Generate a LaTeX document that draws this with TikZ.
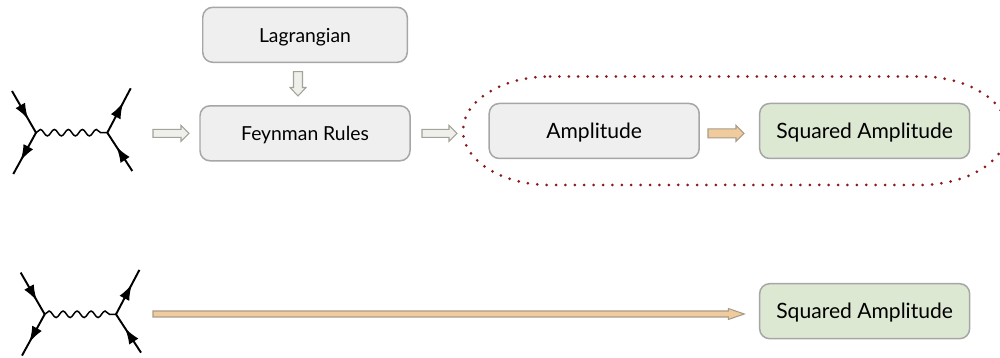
\documentclass[tikz,border=0pt]{standalone}
\usepackage{fontspec}
\setmainfont{Lato}
\usetikzlibrary{arrows.meta}
\usetikzlibrary{calc}
\usetikzlibrary{decorations.pathmorphing}
\usetikzlibrary{decorations.markings}
\definecolor{boxgrey}{HTML}{EFEFEF}
\definecolor{boxgreen}{HTML}{DDE8D3}
\definecolor{boxline}{HTML}{A6A6A6}
\definecolor{tanfill}{HTML}{EFCB9E}
\definecolor{tanline}{HTML}{A89C88}
\definecolor{paleline}{HTML}{A3A398}
\definecolor{palefill}{HTML}{EFEFEC}
\definecolor{loopred}{HTML}{8B1A1A}
\tikzset{
  stepbox/.style={draw=boxline, fill=boxgrey, line width=0.85pt, rounded corners=0.2cm,
    minimum width=4.2cm, minimum height=1.1cm, inner sep=0pt, text height=10pt, text depth=1.7pt},
  blockarrow/.style n args={3}{line width=0.6pt, to path={
    -- ($(\tikztostart)!#1!90:(\tikztotarget)$)
    -- ($(\tikztotarget)!#3!(\tikztostart)!#1!-90:(\tikztostart)$)
    -- ($(\tikztotarget)!#3!(\tikztostart)!#2!-90:(\tikztostart)$)
    -- (\tikztotarget)
    -- ($(\tikztotarget)!#3!(\tikztostart)!#2!90:(\tikztostart)$)
    -- ($(\tikztotarget)!#3!(\tikztostart)!#1!90:(\tikztostart)$)
    -- ($(\tikztostart)!#1!-90:(\tikztotarget)$)
    -- cycle}},
  palearrow/.style={draw=paleline, fill=palefill},
  tanarrow/.style={draw=tanline, fill=tanfill},
  fermion/.style={line width=1.1pt, postaction={decorate}, decoration={markings,
    mark=at position #1 with {\arrow{Latex[length=0.32cm,width=0.22cm]}}}},
  photon/.style={line width=0.85pt, decorate, decoration={snake, amplitude=0.065cm, segment length=0.28cm}},
  scattering/.pic={
    \coordinate (-vl) at (0,0);
    \coordinate (-vr) at (1.426,0);
    \coordinate (-ul) at (-0.48,0.834);
    \coordinate (-ll) at (-0.454,-0.826);
    \coordinate (-ur) at (1.894,0.888);
    \coordinate (-lr) at (1.926,-0.766);
    \draw[photon] (-vl) -- (-vr);
    \draw[fermion=0.68] (-ul) -- (-vl);
    \draw[fermion=0.68] (-vl) -- (-ll);
    \draw[fermion=0.68] (-vr) -- (-ur);
    \draw[fermion=0.64] (-lr) -- (-vr);
  }
}
\begin{document}
\begin{tikzpicture}
      \useasboundingbox (0,0) rectangle (20,7.16);

      \node[stepbox, minimum width=4.09cm] (lagrangian) at (6.1,6.464) {\fontsize{11}{13}\selectfont Lagrangian};
      \node[stepbox] (rules) at (6.1,4.494) {\fontsize{11}{13}\selectfont Feynman Rules};
      \node[stepbox] (amplitude) at (11.884,4.54) {\fontsize{12}{15}\selectfont Amplitude};
      \node[stepbox, fill=boxgreen] (squared) at (17.293,4.54) {\fontsize{12}{15}\selectfont Squared Amplitude};
      \node[stepbox, fill=boxgreen] (squaredb) at (17.293,0.936) {\fontsize{12}{15}\selectfont Squared Amplitude};

      \pic (top) at (0.72,4.506) {scattering};
      \pic (bot) at (0.894,0.874) {scattering};

      % ends of the block arrows
      \coordinate (diagE) at (3.06,4.494);
      \coordinate (rulesW) at (3.78,4.494);
      \coordinate (lagrS) at (5.96,5.726);
      \coordinate (rulesN) at (5.96,5.24);
      \coordinate (rulesE) at (8.44,4.494);
      \coordinate (ampW) at (9.14,4.494);
      \coordinate (ampE) at (14.16,4.494);
      \coordinate (squaredW) at (14.88,4.494);
      \coordinate (botE) at (3.06,0.88);
      \coordinate (squaredbW) at (14.886,0.88);

      \draw[palearrow, blockarrow={0.08cm}{0.16cm}{0.16cm}] (diagE) to (rulesW);
      \draw[palearrow, blockarrow={0.09cm}{0.16cm}{0.17cm}] (lagrS) to (rulesN);
      \draw[palearrow, blockarrow={0.08cm}{0.16cm}{0.16cm}] (rulesE) to (ampW);
      \draw[tanarrow, blockarrow={0.09cm}{0.16cm}{0.16cm}] (ampE) to (squaredW);
      \draw[tanarrow, blockarrow={0.06cm}{0.11cm}{0.32cm}] (botE) to (squaredbW);

      % dotted outline round the last two boxes
      \draw[loopred, line width=0.06cm, line cap=round, dash pattern=on 0pt off 0.188cm]
        (11,5.63) -- (18.4,5.63) arc[start angle=90, end angle=-90, x radius=1.74, y radius=1.085]
        -- (11,3.46) arc[start angle=270, end angle=90, x radius=1.74, y radius=1.085];
\end{tikzpicture}
\end{document}
